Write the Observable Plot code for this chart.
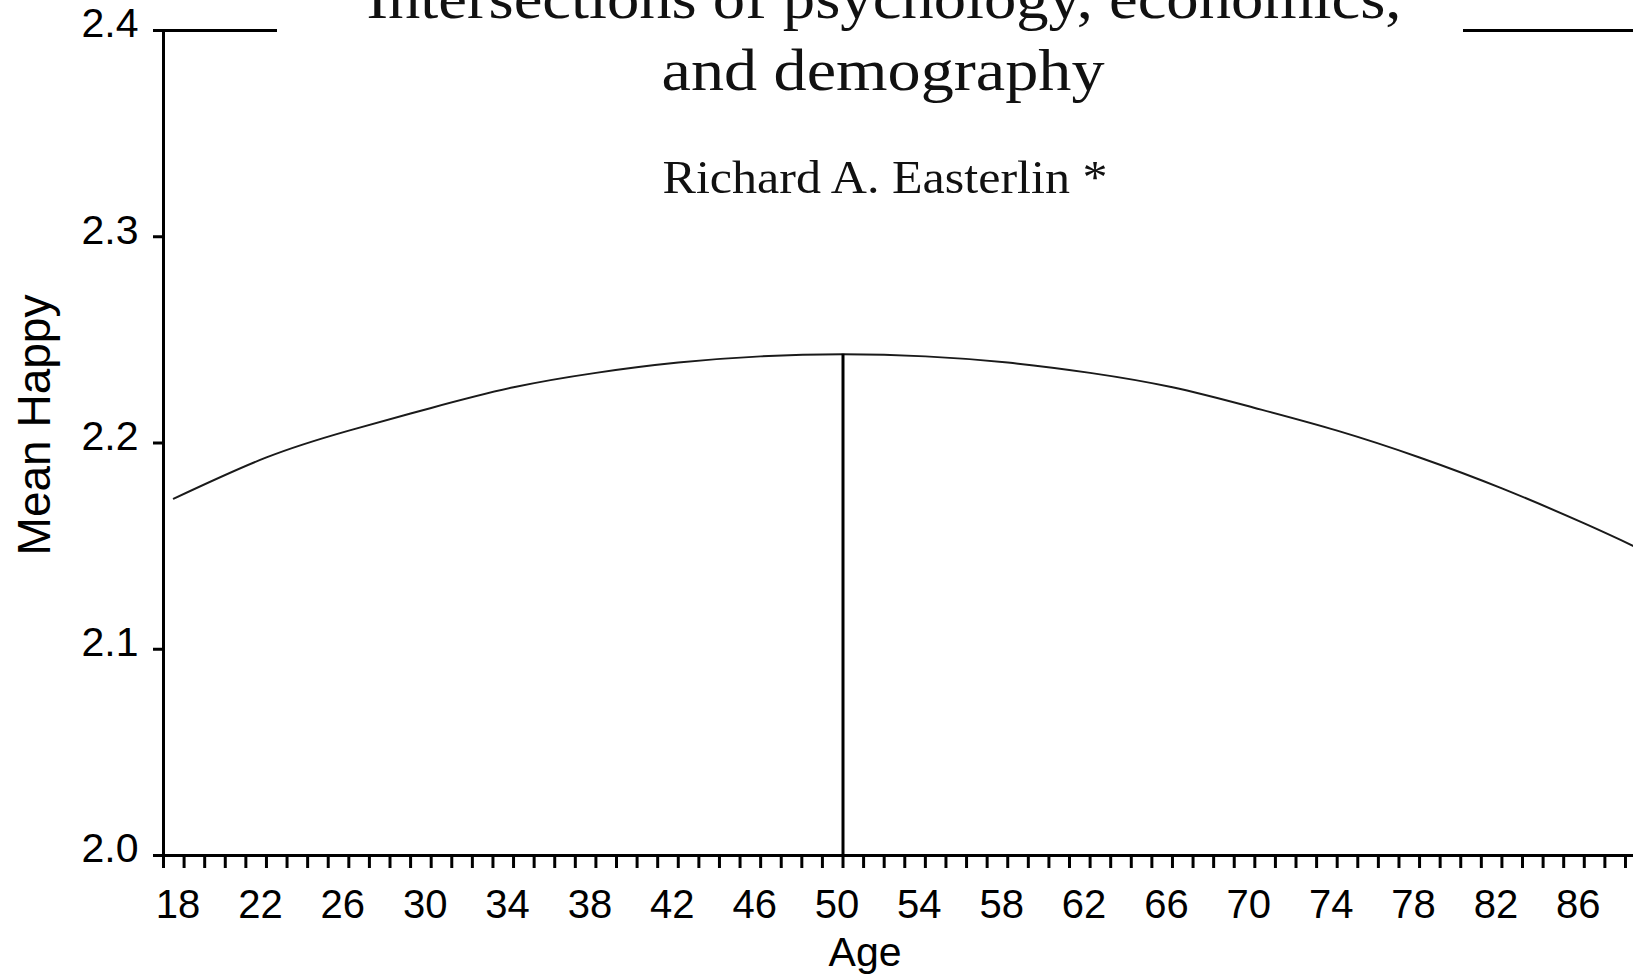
<!DOCTYPE html>
<html>
<head>
<meta charset="utf-8">
<script src="https://cdn.jsdelivr.net/npm/d3@7"></script>
<script src="https://cdn.jsdelivr.net/npm/@observablehq/plot@0.6"></script>
<style>
  html, body { margin: 0; padding: 0; background: #fff; overflow: hidden; }
  #chart { width: 1633px; height: 976px; }
</style>
</head>
<body>
<div id="chart"></div>
<script>
// ---- data ----
const ages      = [17.5, 22, 26, 30, 34, 38, 42, 46, 50, 54, 58, 62, 66, 70, 74, 78, 82, 86, 88.4];
const meanHappy = [2.173, 2.193, 2.206, 2.217, 2.227, 2.234, 2.239, 2.242, 2.243, 2.242, 2.239, 2.234, 2.227, 2.217, 2.206, 2.193, 2.178, 2.161, 2.150];
const peakAge   = [50];
const peakHappy = [2.243];
const xTickLabels = [18, 22, 26, 30, 34, 38, 42, 46, 50, 54, 58, 62, 66, 70, 74, 78, 82, 86];
const xMinorTicks = d3.range(17, 89);
const yTicks = [2.0, 2.1, 2.2, 2.3, 2.4];
const xLabel = "Age";
const yLabel = "Mean Happy";
const titleLines = ["Intersections of psychology, economics,", "and demography"];
const authorLine = "Richard A. Easterlin *";

const data = ages.map((a, i) => ({age: a, happy: meanHappy[i]}));
const peak = peakAge.map((a, i) => ({age: a, happy: peakHappy[i]}));

const plot = Plot.plot({
  width: 1633,
  height: 976,
  marginTop: 30,
  marginBottom: 121,
  marginLeft: 163,
  marginRight: 0,
  style: {fontFamily: "'Liberation Sans', Arial, sans-serif", color: "#000", background: "#fff", overflow: "visible"},
  x: {domain: [17, 88.39]},
  y: {domain: [2.0, 2.4]},
  marks: [
    Plot.ruleY([2.4], {stroke: "#000", strokeWidth: 3}),
    Plot.ruleY([2.0], {stroke: "#000", strokeWidth: 3}),
    Plot.ruleX([17], {stroke: "#000", strokeWidth: 3}),
    Plot.axisY({ticks: yTicks, tickFormat: d3.format(".1f"), tickSize: 10, tickPadding: 15,
      strokeWidth: 3, fontSize: 41, fill: "#000", label: yLabel, labelAnchor: "center", labelArrow: "none"}),
    Plot.axisX({ticks: xMinorTicks, tickSize: 13, strokeWidth: 3, tickFormat: () => "", label: null}),
    Plot.axisX({ticks: xTickLabels, tickSize: 0, tickPadding: 34, fontSize: 40, fill: "#000", dx: -6,
      label: xLabel, labelAnchor: "center", labelArrow: "none"}),
    Plot.line(data, {x: "age", y: "happy", curve: "natural", stroke: "#1a1a1a", strokeWidth: 2}),
    Plot.ruleX(peak, {x: "age", y1: 2.0, y2: "happy", stroke: "#000", strokeWidth: 3})
  ]
});

document.getElementById("chart").appendChild(plot);
const svg = d3.select(plot);

// nudge y tick labels slightly up (as in the original)
svg.selectAll('g[aria-label="y-axis tick label"] text').attr("dy", "-0.15em");

// axis labels
const yl = svg.select('g[aria-label="y-axis label"]');
yl.attr("transform", null);
yl.select("text")
  .attr("transform", "translate(17,425) rotate(-90)")
  .attr("x", null).attr("y", null)
  .attr("dy", "0.71em")
  .attr("text-anchor", "middle")
  .style("font-size", "46px");

const xl = svg.select('g[aria-label="x-axis label"]');
xl.attr("transform", null);
xl.select("text")
  .attr("transform", "translate(865,966)")
  .attr("x", null).attr("y", null)
  .attr("dy", "0")
  .attr("text-anchor", "middle")
  .style("font-size", "41px");

// overlaid title block (white patch over the top frame line)
const title = svg.append("g").attr("aria-label", "title overlay");
title.append("rect").attr("x", 277).attr("y", 0).attr("width", 1186).attr("height", 48).attr("fill", "#fff");
const serif = "'Liberation Serif', 'Times New Roman', serif";
title.append("text").text(titleLines[0])
  .attr("x", 884).attr("y", 18).attr("text-anchor", "middle")
  .attr("textLength", 1035).attr("lengthAdjust", "spacingAndGlyphs")
  .style("font-family", serif).style("font-size", "59px").attr("fill", "#111");
title.append("text").text(titleLines[1])
  .attr("x", 883).attr("y", 90).attr("text-anchor", "middle")
  .attr("textLength", 443).attr("lengthAdjust", "spacingAndGlyphs")
  .style("font-family", serif).style("font-size", "59px").attr("fill", "#111");
title.append("text").text(authorLine)
  .attr("x", 885).attr("y", 193).attr("text-anchor", "middle")
  .attr("textLength", 445).attr("lengthAdjust", "spacingAndGlyphs")
  .style("font-family", serif).style("font-size", "47px").attr("fill", "#111");
</script>
</body>
</html>
